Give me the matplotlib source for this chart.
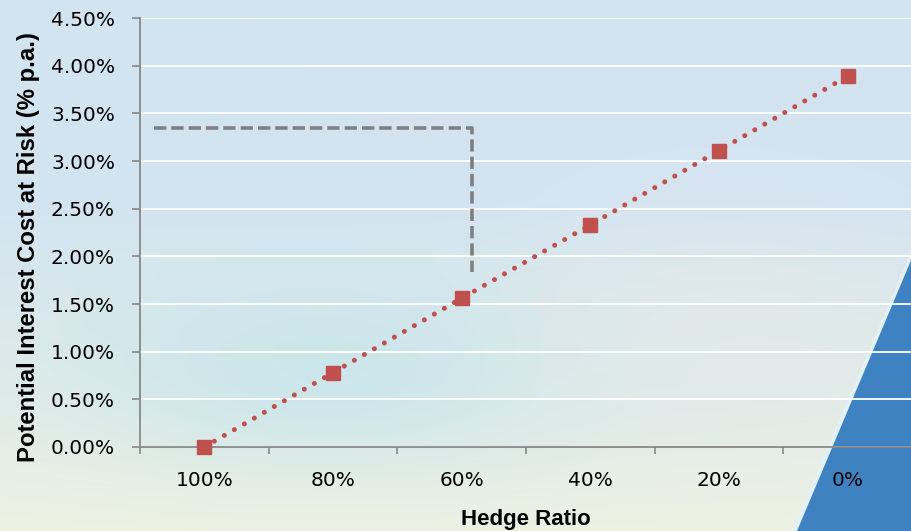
import numpy as np
import matplotlib
matplotlib.use("Agg")
import matplotlib.pyplot as plt
from matplotlib.patches import Polygon
from matplotlib.ticker import FuncFormatter, FixedLocator

categories = ["100%", "80%", "60%", "40%", "20%", "0%"]
values = [0.0, 0.0078, 0.0156, 0.0233, 0.0311, 0.0389]
y_ticks = [0.0, 0.005, 0.01, 0.015, 0.02, 0.025, 0.03, 0.035, 0.04, 0.045]
# reference guide (dashed) line: horizontal level and vertical end
guide_x = [-0.39, 2.08, 2.08]
guide_y = [0.0335, 0.0335, 0.0184]

W, H = 912, 531
fig = plt.figure(figsize=(W / 100, H / 100), dpi=100)

# background gradient
bg = fig.add_axes([0, 0, 1, 1])
yy, xx = np.mgrid[0:H, 0:W]
t = np.clip((yy - 200) / (H - 200), 0, 1)[..., None]
top = np.array([211, 228, 241]) / 255
bot = np.array([238, 242, 226]) / 255
img = top * (1 - t) + bot * t
# cyan blob lower left
d = np.exp(-(((xx - 330) / 260.0) ** 2 + ((yy - 370) / 100.0) ** 2))[..., None]
cyan = np.array([196, 228, 236]) / 255
img = img * (1 - 0.75 * d) + cyan * 0.75 * d
# greyish right middle
d2 = np.exp(-(((xx - 720) / 200.0) ** 2 + ((yy - 330) / 120.0) ** 2))[..., None]
grey = np.array([228, 233, 234]) / 255
img = img * (1 - 0.6 * d2) + grey * 0.6 * d2
bg.imshow(img, extent=[0, W, H, 0], aspect="auto", zorder=0)
bg.add_patch(Polygon([[912, 250], [912, 531], [792, 531]], closed=True,
                     facecolor="#e2f1f8", edgecolor="none", zorder=1))
bg.add_patch(Polygon([[912, 258], [912, 531], [797, 531]], closed=True,
                     facecolor="#3f82c2", edgecolor="none", zorder=2))
bg.set_xlim(0, W)
bg.set_ylim(H, 0)
bg.axis("off")

ax = fig.add_axes([140 / W, 1 - 447 / H, (912 - 140) / W, (447 - 18) / H])
ax.set_facecolor("none")
x = np.arange(len(categories))
ax.set_xlim(-0.5, len(categories) - 0.5)
ax.set_ylim(0, 0.045)

ax.yaxis.set_major_locator(FixedLocator(y_ticks))
ax.yaxis.set_major_formatter(FuncFormatter(lambda v, p: f"{v*100:.2f}%"))
ax.grid(axis="y", color="white", lw=1.3, zorder=1)

ax.set_xticks(np.arange(-0.5, len(categories) + 0.5, 1))
ax.set_xticklabels([])
ax.set_xticks(x, minor=True)
ax.set_xticklabels(categories, minor=True)
ax.tick_params(axis="x", which="major", direction="out", length=5, width=1.2, color="#888888")
ax.tick_params(axis="x", which="minor", length=0, pad=17, labelsize=14.5)
ax.tick_params(axis="y", direction="out", length=6, width=1.2, color="#888888", pad=12, labelsize=14.5)

for s in ["top", "right"]:
    ax.spines[s].set_visible(False)
for s in ["left", "bottom"]:
    ax.spines[s].set_color("#888888")
    ax.spines[s].set_linewidth(1.3)

ax.plot(guide_x, guide_y, color="#808080", lw=2.6, linestyle=(0, (3.4, 1.4)),
        dash_capstyle="butt", zorder=3, clip_on=False)
ax.plot(x, values, color="#c0504d", lw=3.6, linestyle=(0, (0.01, 2.3)),
        dash_capstyle="round", zorder=4)
ax.plot(x, values, linestyle="none", marker="s", markersize=10.5,
        color="#c0504d", zorder=5, clip_on=False)

fig.text(526 / W, 1 - 519 / H, "Hedge Ratio", ha="center", va="center",
         fontsize=16, fontweight="bold", family="Liberation Sans")
fig.text(29 / W, 1 - 247 / H, "Potential Interest Cost at Risk (% p.a.)",
         ha="center", va="center", rotation=90, fontsize=17.2,
         fontweight="bold", family="Liberation Sans")

fig.savefig("out.png", dpi=100)
